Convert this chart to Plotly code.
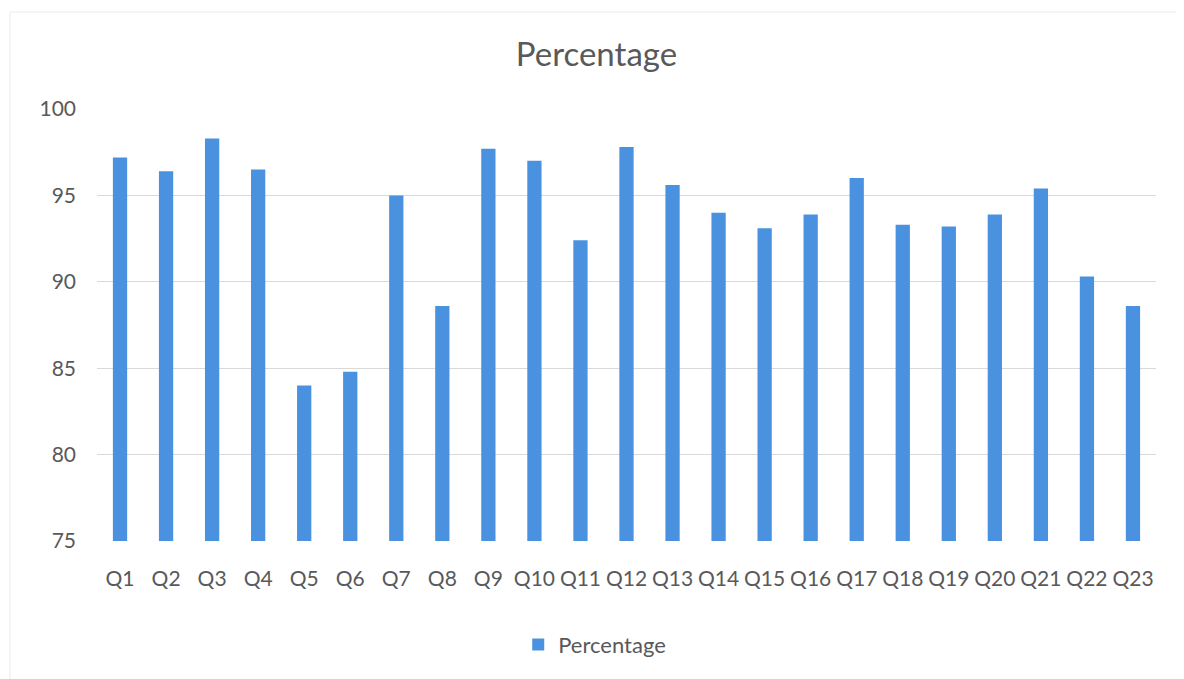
import plotly.graph_objects as go

categories = [f"Q{i}" for i in range(1, 24)]
percentage = [97.2, 96.4, 98.3, 96.5, 84.0, 84.8, 95.0, 88.6, 97.7, 97.0, 92.4,
              97.8, 95.6, 94.0, 93.1, 93.9, 96.0, 93.3, 93.2, 93.9, 95.4, 90.3, 88.6]
y_ticks = [75, 80, 85, 90, 95, 100]

font_family = "Lato, 'Open Sans', sans-serif"
text_color = "#595959"

fig = go.Figure()
fig.add_trace(go.Bar(
    x=categories, y=percentage, name="Percentage",
    marker=dict(color="#4a92e0", line=dict(width=0)),
    showlegend=True,
))

# faint chart-area border
fig.add_shape(type="rect", xref="paper", yref="paper",
              x0=-0.0822, x1=1.0208, y0=-0.35, y1=1.2245,
              line=dict(color="#ebebeb", width=1), fillcolor="rgba(0,0,0,0)", layer="below")

fig.update_layout(
    width=1184, height=679,
    paper_bgcolor="white", plot_bgcolor="white",
    margin=dict(l=89, r=36, t=101, b=146),
    bargap=0.69,
    title=dict(text="Percentage", x=0.497, xanchor="center", y=0.931, yanchor="middle",
               font=dict(family=font_family, size=33, color=text_color)),
    font=dict(family=font_family, size=21, color=text_color),
    legend=dict(orientation="h", x=0.470, xanchor="center", y=-0.24, yanchor="middle",
                font=dict(size=22, color=text_color)),
    xaxis=dict(showgrid=False, showline=False, ticks="", ticklabelstandoff=23,
               tickfont=dict(size=21, color=text_color)),
    yaxis=dict(range=[75, 100], tickvals=y_ticks, showgrid=True, gridcolor="#d9d9d9",
               gridwidth=1, zeroline=False, showline=False, ticks="",
               ticklabelstandoff=20, tickfont=dict(size=21, color=text_color)),
)
fig.write_html("out.html")
